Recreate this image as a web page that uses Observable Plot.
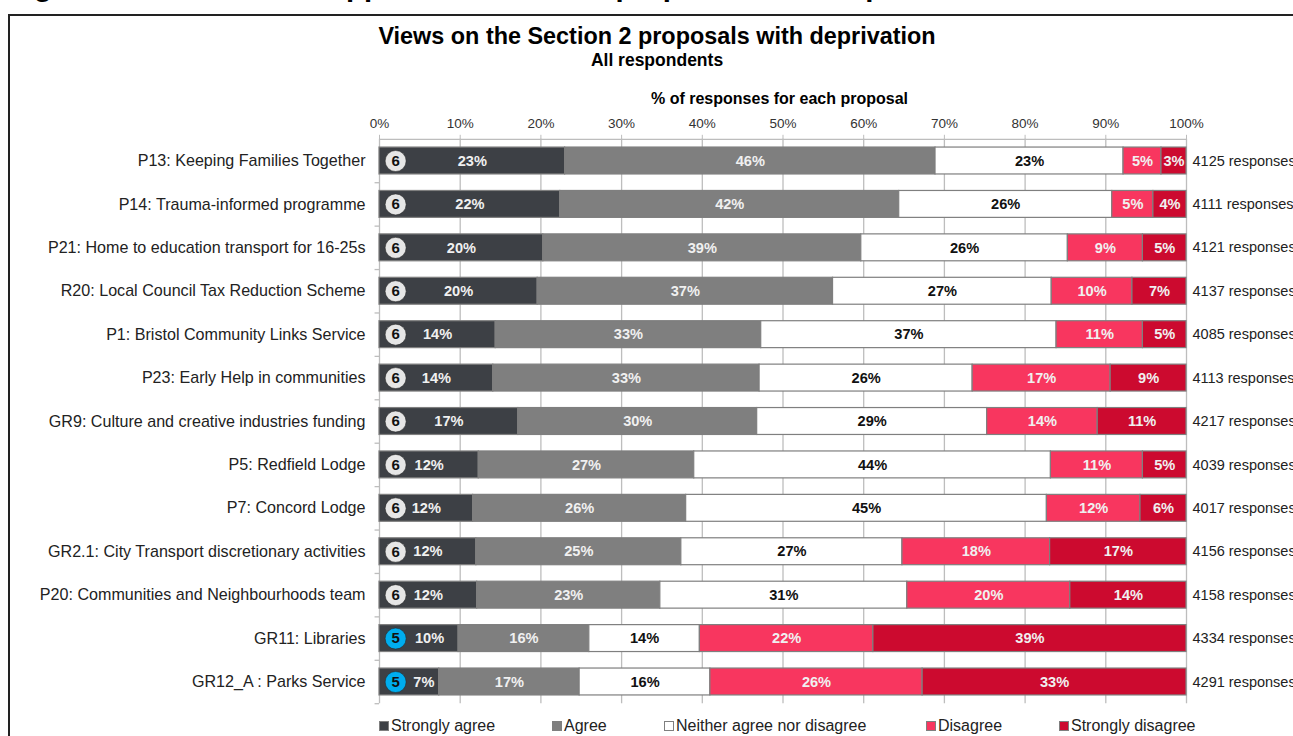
<!DOCTYPE html>
<html><head><meta charset="utf-8">
<script src="https://cdn.jsdelivr.net/npm/d3@7"></script>
<script src="https://cdn.jsdelivr.net/npm/@observablehq/plot@0.6"></script>
<style>
html,body{margin:0;padding:0;background:#fff;overflow:hidden;font-family:"Liberation Sans",Arial,sans-serif}
#wrap{position:relative;width:1293px;height:736px;overflow:hidden}
#frame{position:absolute;left:8px;top:14px;width:2000px;height:2000px;border:2px solid #222;box-sizing:border-box}
.t{position:absolute;white-space:nowrap;color:#000;text-align:center;font-weight:bold}
#legend{position:absolute;left:378px;top:717px;font-size:16px;color:#222;white-space:nowrap}
#legend span{position:absolute;top:0}
#legend i{display:inline-block;width:8px;height:8px;margin-right:2px;border:1px solid #7f7f7f;box-sizing:content-box;vertical-align:0}
svg{position:absolute;left:0;top:0;background:transparent!important}
</style></head><body><div id="wrap">
<div class="t" style="left:8px;top:-31px;font-size:29.4px;text-align:left">Figure 8: Level of net support for Section 2 proposals with deprivation</div>
<div id="frame"></div>
<div class="t" style="left:0;width:1314px;top:23px;font-size:23.4px">Views on the Section 2 proposals with deprivation</div>
<div class="t" style="left:0;width:1314px;top:50px;font-size:17.5px">All respondents</div>
<div class="t" style="left:0;width:1559px;top:90px;font-size:16px">% of responses for each proposal</div>
<div id="chart"></div>
<div id="legend"></div>
</div>
<script>
const categories = ["P13: Keeping Families Together","P14: Trauma-informed programme","P21: Home to education transport for 16-25s","R20: Local Council Tax Reduction Scheme","P1: Bristol Community Links Service","P23: Early Help in communities","GR9: Culture and creative industries funding","P5: Redfield Lodge","P7: Concord Lodge","GR2.1: City Transport discretionary activities","P20: Communities and Neighbourhoods team","GR11: Libraries","GR12_A : Parks Service"];
const responses = [4125,4111,4121,4137,4085,4113,4217,4039,4017,4156,4158,4334,4291];
const badges = [6,6,6,6,6,6,6,6,6,6,6,5,5];
const stronglyAgree = [23.0,22.4,20.3,19.6,14.4,14.1,17.2,12.3,11.6,12.0,12.1,9.8,7.4];
const agree = [45.9,42.0,39.4,36.6,32.9,33.0,29.6,26.7,26.4,25.4,22.7,16.2,17.4];
const neither = [23.3,26.4,25.6,27.1,36.6,26.4,28.5,44.2,44.7,27.4,30.6,13.7,16.2];
const disagree = [4.7,5.1,9.3,10.0,10.7,17.1,13.7,11.4,11.6,18.3,20.2,21.5,26.3];
const stronglyDisagree = [3.1,4.1,5.4,6.7,5.4,9.4,11.0,5.4,5.7,16.9,14.4,38.8,32.7];
const seriesNames = ["Strongly agree","Agree","Neither agree nor disagree","Disagree","Strongly disagree"];
const seriesValues = [stronglyAgree,agree,neither,disagree,stronglyDisagree];
const seriesColors = ["#3d4045","#7f7f7f","#ffffff","#f8365f","#cc0a2f"];
const xTicks = [0,10,20,30,40,50,60,70,80,90,100];
const labelNudge = {"GR11: Libraries":1.3,"GR12_A : Parks Service":1.8};

const rows = [];
categories.forEach((c,i)=>seriesNames.forEach((s,j)=>{
  let start=0; for(let k=0;k<j;k++) start+=seriesValues[k][i];
  rows.push({category:c,series:s,value:seriesValues[j][i],start});
}));
const font = '"Liberation Sans",Arial,sans-serif';
const step = 43.42;
const grid = "#bdbdbd";

const chart = Plot.plot({
  width:1293,height:736,marginLeft:379,marginRight:107,marginTop:138.8,marginBottom:32.8,
  style:{fontFamily:font,background:"transparent",overflow:"visible"},
  x:{domain:[0,100],axis:null},
  y:{domain:categories,paddingInner:0.38,paddingOuter:0.19,align:0.5,round:false,axis:null},
  color:{domain:seriesNames,range:seriesColors},
  marks:[
    Plot.ruleX(xTicks,{stroke:grid,strokeWidth:1.3}),
    Plot.axisX({anchor:"top",label:null,ticks:xTicks,tickFormat:d=>d+"%",tickSize:5,tickPadding:6,stroke:grid,fontSize:13.5,color:"#333"}),
    Plot.ruleY([categories[0]],{y:d=>d,x1:0,x2:100,stroke:grid,dy:-step/2,strokeWidth:1.3}),
    Plot.ruleY(categories,{y:d=>d,x1:-0.55,x2:0,stroke:grid,strokeWidth:1.3,dy:step/2}),
    Plot.barX(rows,Plot.stackX({x:"value",y:"category",fill:"series",order:seriesNames,stroke:"#7f7f7f",strokeWidth:1.2})),
    Plot.text(rows,{
      x:d=>d.start+d.value/2+(d.series===seriesNames[0]?(labelNudge[d.category]||0):0),
      y:"category",text:d=>Math.round(d.value)+"%",
      fill:d=>d.series===seriesNames[2]?"#111":"#f0f0f0",
      fontWeight:"bold",fontSize:14.6
    }),
    Plot.dot(categories,{x:()=>2,y:d=>d,r:10.5,fill:(d,i)=>badges[i]===5?"#00adef":"#e6e6e6",stroke:"#222",strokeWidth:0.5}),
    Plot.text(categories,{x:()=>2,y:d=>d,text:(d,i)=>String(badges[i]),fill:"#111",fontWeight:"bold",fontSize:15}),
    Plot.text(categories,{x:()=>0,y:d=>d,text:d=>d,textAnchor:"end",dx:-14,fontSize:16.1,fill:"#222"}),
    Plot.text(categories,{x:()=>100,y:d=>d,text:(d,i)=>responses[i]+" responses",textAnchor:"start",dx:6,fontSize:14.5,fill:"#222"})
  ]
});
document.getElementById("chart").appendChild(chart);

const legend=document.getElementById("legend");
const offsets=[1,174,286,548,681];
seriesNames.forEach((s,i)=>{
  const e=document.createElement("span");
  e.style.left=offsets[i]+"px";
  e.innerHTML='<i style="background:'+seriesColors[i]+'"></i>'+s;
  legend.appendChild(e);
});
</script></body></html>
